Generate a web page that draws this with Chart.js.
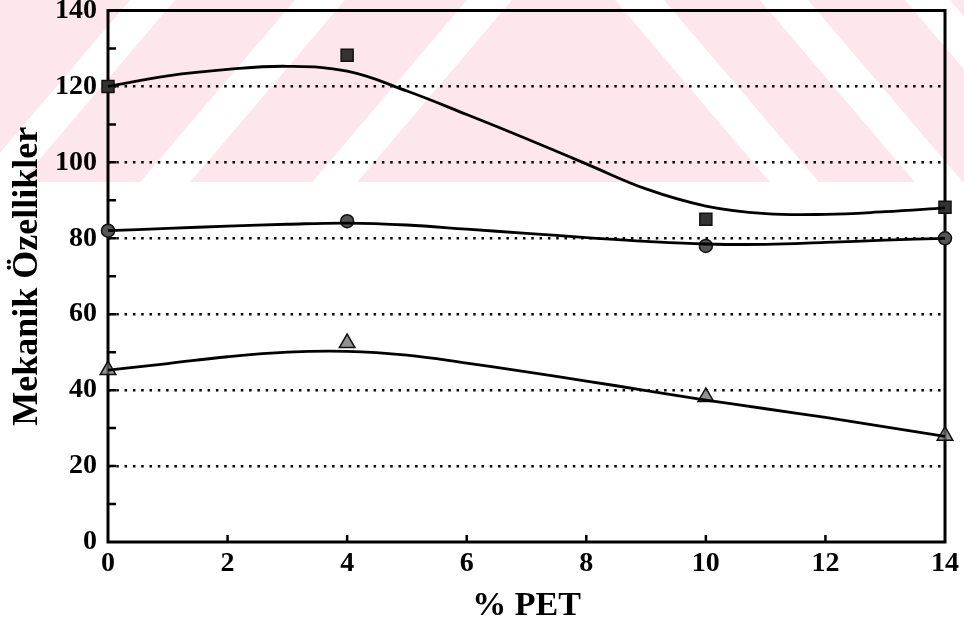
<!DOCTYPE html>
<html>
<head>
<meta charset="utf-8">
<title>Mekanik Özellikler - % PET</title>
<script src="https://cdn.jsdelivr.net/npm/chart.js@4.4.1/dist/chart.umd.min.js"></script>
<style>
  html, body { margin: 0; padding: 0; background: #fff; }
  #wrap { width: 964px; height: 626px; }
</style>
</head>
<body>
<div id="wrap"><canvas id="chart" width="964" height="626"></canvas></div>
<script>
/* measured points */
const pet = [0, 4, 10, 14];
const squareVals = [120, 128.2, 85, 88.2];
const circleVals = [82, 84.5, 78, 80];
const triangleVals = [45.3, 52.4, 38.2, 28];

/* fitted curves, read every 1 % PET */
const curveX = [0, 1, 2, 3, 4, 5, 6, 7, 8, 9, 10, 11, 12, 13, 14];
const squareFit = [120, 122.8, 124.5, 125.3, 124, 118.8, 112.6, 106.2, 99.6, 93, 88.5, 86.5, 86.3, 87, 88];
const circleFit = [82, 82.6, 83.2, 83.7, 84, 83.5, 82.4, 81.3, 80.2, 79.2, 78.5, 78.4, 78.9, 79.5, 80];
const triangleFit = [45.3, 47, 48.8, 50, 50.2, 49.2, 47.1, 44.8, 42.4, 39.9, 37.4, 35.1, 32.8, 30.3, 27.8];

const xTicks = [0, 2, 4, 6, 8, 10, 12, 14];
const yTicks = [0, 20, 40, 60, 80, 100, 120, 140];

const SERIF = '"Liberation Serif", "Times New Roman", serif';

function pts(xs, ys) {
  return xs.map((x, i) => ({ x: x, y: ys[i] }));
}

function curve(data) {
  return {
    type: "line",
    data: data,
    borderColor: "#000",
    borderWidth: 2.8,
    pointRadius: 0,
    tension: 0.4,
    fill: false,
    clip: false,
  };
}

function marks(data, style, radius, fill) {
  return {
    type: "scatter",
    data: data,
    pointStyle: style,
    pointRadius: radius,
    backgroundColor: fill,
    borderColor: "#111",
    borderWidth: 1.5,
    clip: false,
  };
}

// pale striped backdrop across the top band
function drawWatermark(ctx) {
  const h = 182;
  const s = 0.85; // horizontal shift per vertical pixel
  ctx.fillStyle = "#fde6ec";
  ctx.fillRect(0, 0, 964, h);
  ctx.fillStyle = "#fff";
  const rising = [[295, 345], [467, 512], [130, 175]];
  const falling = [[615, 664], [760, 808], [905, 950]];
  rising.forEach(([a, b]) => {
    ctx.beginPath();
    ctx.moveTo(a, 0);
    ctx.lineTo(b, 0);
    ctx.lineTo(b - s * h, h);
    ctx.lineTo(a - s * h, h);
    ctx.closePath();
    ctx.fill();
  });
  falling.forEach(([a, b]) => {
    ctx.beginPath();
    ctx.moveTo(a, 0);
    ctx.lineTo(b, 0);
    ctx.lineTo(b + s * h, h);
    ctx.lineTo(a + s * h, h);
    ctx.closePath();
    ctx.fill();
  });
}

const framePlugin = {
  id: "frame",
  beforeDraw(chart) {
    const ctx = chart.ctx;
    ctx.save();
    ctx.fillStyle = "#fff";
    ctx.fillRect(0, 0, chart.width, chart.height);
    drawWatermark(ctx);
    ctx.restore();
  },
  beforeDatasetsDraw(chart) {
    const { ctx, chartArea: a, scales } = chart;
    ctx.save();
    ctx.strokeStyle = "#000";
    ctx.lineWidth = 3;
    ctx.strokeRect(a.left, a.top, a.right - a.left, a.bottom - a.top);
    ctx.lineWidth = 2.5;
    ctx.beginPath();
    // inward ticks on the left axis every 10
    for (let v = 10; v < 140; v += 10) {
      const y = scales.y.getPixelForValue(v);
      ctx.moveTo(a.left, y);
      ctx.lineTo(a.left + 8, y);
    }
    // inward ticks on the bottom axis
    for (let v = 2; v < 14; v += 2) {
      const x = scales.x.getPixelForValue(v);
      ctx.moveTo(x, a.bottom);
      ctx.lineTo(x, a.bottom - 7);
    }
    ctx.stroke();
    ctx.restore();
  },
};

new Chart(document.getElementById("chart"), {
  data: {
    datasets: [
      curve(pts(curveX, squareFit)),
      curve(pts(curveX, circleFit)),
      curve(pts(curveX, triangleFit)),
      marks(pts(pet, squareVals), "rect", 8.5, "#333"),
      marks(pts(pet, circleVals), "circle", 6.5, "#555"),
      marks(pts(pet, triangleVals), "triangle", 9, "rgba(110,110,110,0.75)"),
    ],
  },
  options: {
    responsive: false,
    animation: false,
    events: [],
    layout: { padding: { left: 0, right: 19, top: 10, bottom: 0 } },
    plugins: { legend: { display: false }, tooltip: { enabled: false } },
    scales: {
      x: {
        type: "linear",
        min: 0,
        max: 14,
        afterFit(scale) {
          scale.height = 84;
          scale.paddingLeft = 0;
          scale.paddingRight = 0;
        },
        afterBuildTicks(scale) { scale.ticks = xTicks.map((v) => ({ value: v })); },
        grid: { display: false },
        border: { display: false },
        ticks: {
          color: "#000",
          padding: 0,
          maxRotation: 0,
          font: { family: SERIF, size: 28, weight: "bold", lineHeight: 1 },
        },
        title: {
          display: true,
          text: "% PET",
          color: "#000",
          padding: { top: 0, bottom: 3 },
          font: { family: SERIF, size: 34, weight: "bold", lineHeight: 1 },
        },
      },
      y: {
        type: "linear",
        min: 0,
        max: 140,
        afterFit(scale) {
          scale.width = 108;
          scale.paddingTop = 0;
          scale.paddingBottom = 0;
        },
        afterBuildTicks(scale) { scale.ticks = yTicks.map((v) => ({ value: v })); },
        grid: {
          drawTicks: false,
          lineWidth: 2.5,
          color: (c) => (c.tick && c.tick.value > 0 && c.tick.value < 140 ? "#000" : "transparent"),
        },
        border: { display: false, dash: [2.5, 5.8] },
        ticks: {
          color: "#000",
          padding: 11,
          font: { family: SERIF, size: 28, weight: "bold", lineHeight: 1 },
        },
        title: {
          display: true,
          text: "Mekanik Özellikler",
          color: "#000",
          padding: { top: 10, bottom: 0 },
          font: { family: SERIF, size: 36, weight: "bold", lineHeight: 1 },
        },
      },
    },
  },
  plugins: [framePlugin],
});
</script>
</body>
</html>
